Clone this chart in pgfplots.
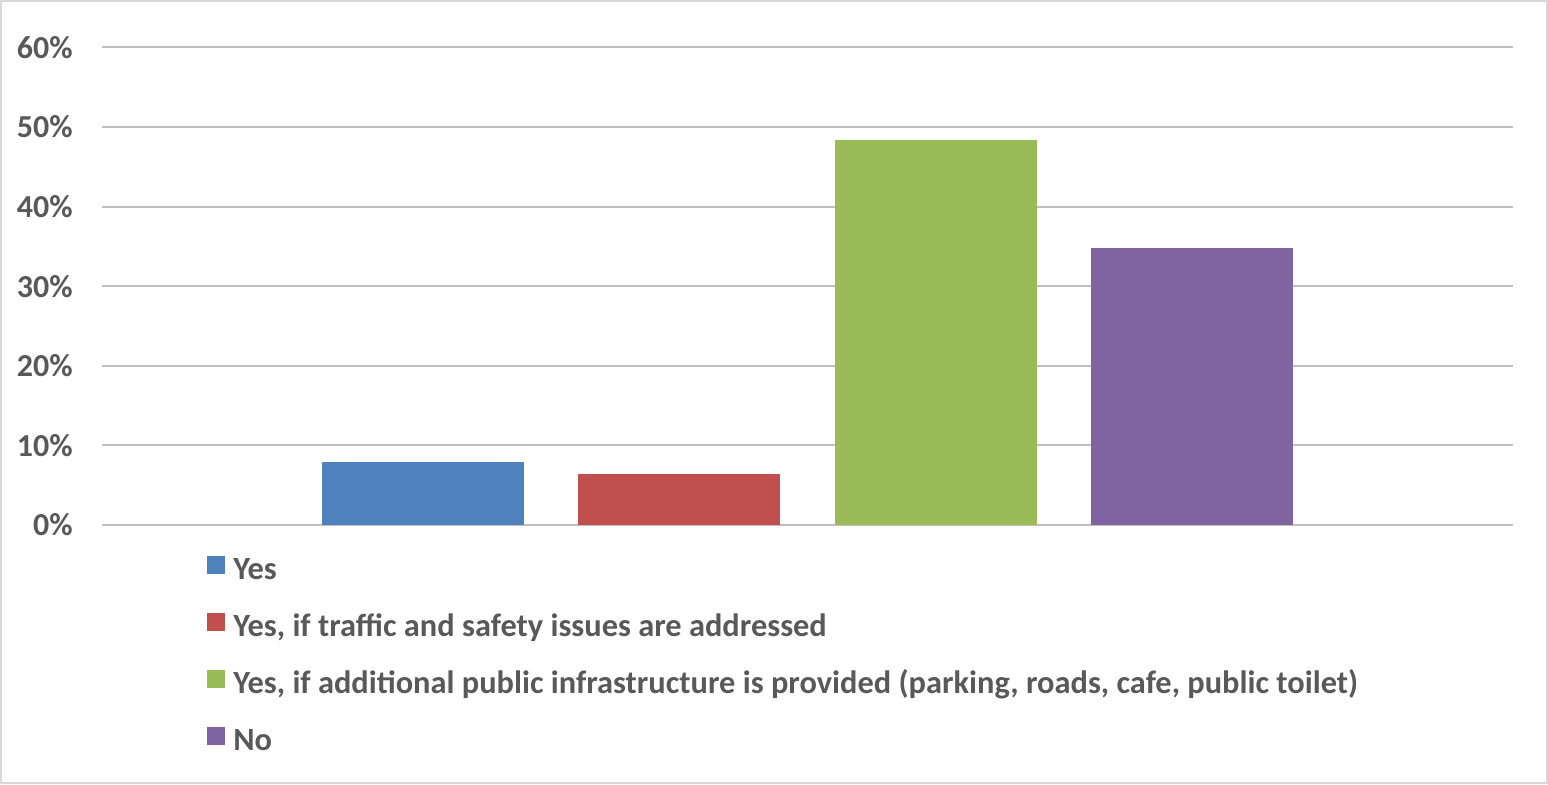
\documentclass[border=0pt]{standalone}
\usepackage{fontspec}
\setmainfont{Carlito}
\usepackage{pgfplots}
\pgfplotsset{compat=1.18}
\definecolor{cBlue}{HTML}{4F81BD}
\definecolor{cRed}{HTML}{C0504D}
\definecolor{cGreen}{HTML}{9BBB59}
\definecolor{cPurple}{HTML}{8064A2}
\definecolor{txt}{HTML}{595959}
\definecolor{grid}{HTML}{D9D9D9}
\begin{document}
\begin{tikzpicture}
\path[use as bounding box] (0,0) rectangle (774pt,392pt);
\draw[grid, line width=1pt] (0.5pt,0.5pt) rectangle (773.5pt,391.5pt);
\begin{axis}[
  at={(51pt,129.5pt)}, anchor=south west,
  scale only axis, width=705.5pt, height=238.8pt,
  xmin=-1.25, xmax=4.25, ymin=0, ymax=60,
  enlargelimits=false,
  axis line style={draw=none},
  xtick=\empty,
  ytick={0,10,20,30,40,50,60},
  yticklabels={0\%,10\%,20\%,30\%,40\%,50\%,60\%},
  major tick length=0pt,
  ymajorgrids,
  grid style={grid, line width=1pt},
  yticklabel style={anchor=east, inner sep=0pt, xshift=-14.5pt, font=\fontsize{16}{19}\selectfont\bfseries, text=txt},
  legend style={at={(axis description cs:0.0744,-0.064)}, anchor=north west, draw=none, fill=none, inner sep=0pt,
    row sep=12.4pt,
    font=\fontsize{16.2}{19}\selectfont\bfseries, text=txt,
    nodes={inner sep=0pt, text height=10pt, text depth=4.25pt},
    /tikz/every odd column/.append style={column sep=4pt}},
  legend cell align=left,
  legend image code/.code={\fill[#1] (0pt,0pt) rectangle (9pt,9pt);},
]
\addplot[ybar, bar width=0.7875, bar shift=0pt, fill=cBlue, draw=none] coordinates {(0,7.95)};
\addlegendentry{Yes}
\addplot[ybar, bar width=0.7875, bar shift=0pt, fill=cRed, draw=none] coordinates {(1,6.4)};
\addlegendentry{Yes, if traffic and safety issues are addressed}
\addplot[ybar, bar width=0.7875, bar shift=0pt, fill=cGreen, draw=none] coordinates {(2,48.4)};
\addlegendentry{Yes, if additional public infrastructure is provided (parking, roads, cafe, public toilet)}
\addplot[ybar, bar width=0.7875, bar shift=0pt, fill=cPurple, draw=none] coordinates {(3,34.8)};
\addlegendentry{No}
\end{axis}
\end{tikzpicture}
\end{document}
